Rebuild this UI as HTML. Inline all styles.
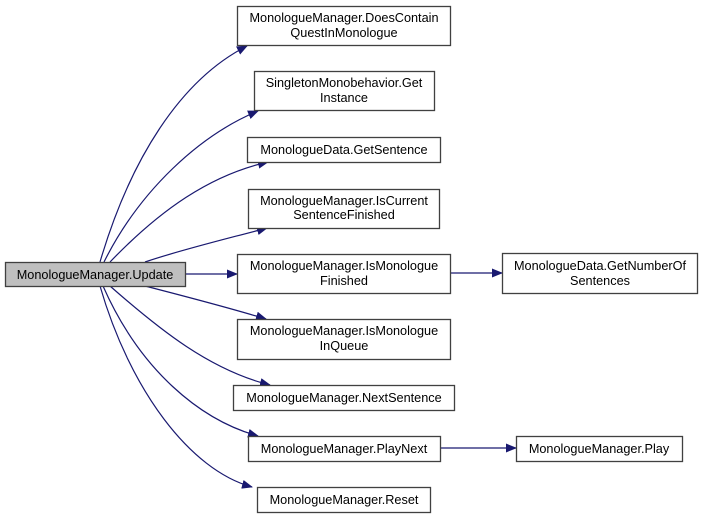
<!DOCTYPE html>
<html><head><meta charset="utf-8"><style>
html,body{margin:0;padding:0;background:#fff;}
svg{display:block;}
text{font-family:"Liberation Sans",Arial,sans-serif;font-size:12.7px;fill:#000;}
</style></head><body>
<svg width="703" height="518" viewBox="0 0 703 518" xmlns="http://www.w3.org/2000/svg">
<defs>
<marker id="a" markerWidth="11" markerHeight="9" refX="10" refY="4.5" orient="auto" markerUnits="userSpaceOnUse">
<path d="M0,0 L11,4.5 L0,9 Z" fill="#191970"/>
</marker>
</defs>
<g fill="none" stroke="#191970" stroke-width="1.2" marker-end="url(#a)">
<path d="M100,262 C130,160 180,80 247,46"/>
<path d="M104,262 C140,190 200,135 258,111"/>
<path d="M110,262 C160,210 210,175 268,162"/>
<path d="M145,262 C180,250 230,238 267,228"/>
<path d="M186,274 L237,274"/>
<path d="M450,273 L502,273"/>
<path d="M145,286 C180,295 230,308 266,319"/>
<path d="M110,286 C160,330 210,370 270,385"/>
<path d="M103,286 C140,370 200,420 258,436"/>
<path d="M100,286 C130,390 190,470 252,487"/>
<path d="M440,448 L516,448"/>
</g>
<g stroke="#404040" stroke-width="1.3" fill="#fff">
<rect x="5.5" y="262.5" width="180" height="24" fill="#bfbfbf"/>
<rect x="237.5" y="6.5" width="213" height="39"/>
<rect x="254.5" y="71.5" width="180" height="39"/>
<rect x="247.5" y="137.5" width="193" height="25"/>
<rect x="248.5" y="189.5" width="191" height="39"/>
<rect x="237.5" y="254.5" width="213" height="39"/>
<rect x="502.5" y="253.5" width="195" height="40"/>
<rect x="237.5" y="319.5" width="213" height="40"/>
<rect x="233.5" y="385.5" width="221" height="25"/>
<rect x="248.5" y="436.5" width="192" height="25"/>
<rect x="516.5" y="436.5" width="166" height="25"/>
<rect x="257.5" y="487.5" width="173" height="25"/>
</g>
<g text-anchor="middle">
<text x="95" y="279">MonologueManager.Update</text>
<text x="344" y="22">MonologueManager.DoesContain</text>
<text x="344" y="37">QuestInMonologue</text>
<text x="344" y="87">SingletonMonobehavior.Get</text>
<text x="344" y="102">Instance</text>
<text x="344" y="154">MonologueData.GetSentence</text>
<text x="344" y="205">MonologueManager.IsCurrent</text>
<text x="344" y="219">SentenceFinished</text>
<text x="344" y="270">MonologueManager.IsMonologue</text>
<text x="344" y="285">Finished</text>
<text x="600" y="270">MonologueData.GetNumberOf</text>
<text x="600" y="285">Sentences</text>
<text x="344" y="335">MonologueManager.IsMonologue</text>
<text x="344" y="350">InQueue</text>
<text x="344" y="402">MonologueManager.NextSentence</text>
<text x="344" y="453">MonologueManager.PlayNext</text>
<text x="599" y="453">MonologueManager.Play</text>
<text x="344" y="504">MonologueManager.Reset</text>
</g>
</svg>
</body></html>
